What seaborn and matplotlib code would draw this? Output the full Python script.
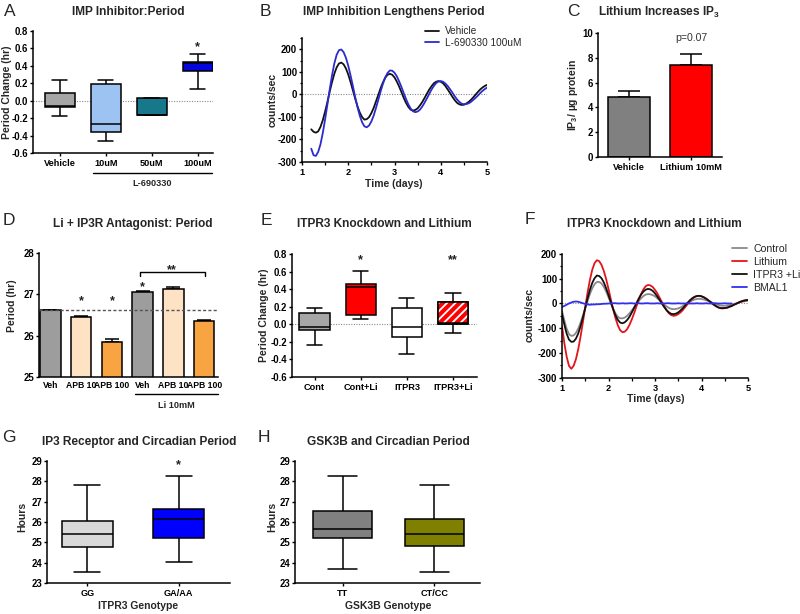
import numpy as np
import pandas as pd
import matplotlib
matplotlib.use('Agg')
import matplotlib.pyplot as plt
import matplotlib.transforms as mtransforms
from matplotlib.lines import Line2D
from matplotlib.patches import PathPatch
from matplotlib.ticker import MultipleLocator, FormatStrFormatter
import seaborn as sns

sns.set_theme(style='ticks')
plt.rcParams['font.family'] = ['Liberation Sans', 'DejaVu Sans']
plt.rcParams['font.weight'] = 'bold'
plt.rcParams['axes.unicode_minus'] = False
plt.rcParams['mathtext.fontset'] = 'custom'
plt.rcParams['mathtext.rm'] = 'Liberation Sans:bold'
plt.rcParams['mathtext.bf'] = 'Liberation Sans:bold'
plt.rcParams['mathtext.it'] = 'Liberation Sans:bold'
plt.rcParams['hatch.linewidth'] = 1.3

# ---------------- data ----------------
# Panel A (box: low, q1, median, q3, high)
a_groups = ['Vehicle', '10uM', '50uM', '100uM']
a_low = [-0.17, -0.46, -0.16, 0.14]
a_q1 = [-0.07, -0.36, -0.16, 0.34]
a_med = [-0.06, -0.27, -0.16, 0.43]
a_q3 = [0.09, 0.19, 0.03, 0.44]
a_high = [0.24, 0.24, 0.03, 0.54]
a_colors = ['#a6a6a6', '#9cc3f2', '#16788a', '#0505dd']

# Panel B (time series)
b_time = np.round(np.arange(1.20, 5.0001, 0.05), 2)
b_vehicle = [-155, -166, -170, -164, -144, -114, -76, -33, 13, 55, 92, 120, 137, 141, 133, 115,
             88, 55, 18, -19, -53, -81, -101, -112, -110, -101, -83, -60, -31, -2, 28, 53, 74, 87, 91, 87,
             75, 57, 35, 10, -16, -38, -56, -68, -72, -69, -62, -49, -34, -16, 3, 21, 36, 49, 56, 59,
             56, 49, 37, 22, 6, -10, -25, -37, -44, -47, -46, -41, -34, -25, -14, -2, 10, 21, 30, 37,
             42]
b_drug = [-241, -270, -273, -255, -221, -171, -110, -44, 23, 85, 138, 176, 196, 199, 187, 162,
          127, 84, 37, -12, -57, -95, -124, -142, -146, -138, -120, -94, -60, -24, 13, 47, 75, 95, 106, 105,
          96, 80, 58, 33, 5, -21, -45, -63, -75, -79, -76, -68, -54, -37, -18, 2, 21, 37, 50, 57,
          59, 56, 48, 37, 23, 8, -8, -22, -33, -41, -44, -43, -40, -34, -25, -16, -6, 5, 15, 23,
          30]
b_labels = ['Vehicle', 'L-690330 100uM']
b_colors = ['#111111', '#2b2bd0']

# Panel C (bars)
c_groups = ['Vehicle', 'Lithium 10mM']
c_values = [4.85, 7.40]
c_errors = [0.51, 0.91]
c_colors = ['#808080', '#ff0000']

# Panel D (bars)
d_ids = ['Veh', 'APB 10', 'APB 100', 'Li Veh', 'Li APB 10', 'Li APB 100']
d_ticklabels = ['Veh', 'APB 10', 'APB 100', 'Veh', 'APB 10', 'APB 100']
d_values = [26.62, 26.46, 25.85, 27.05, 27.12, 26.35]
d_errors = [0.0, 0.02, 0.07, 0.03, 0.05, 0.03]
d_colors = ['#9d9d9d', '#fde2c4', '#f9a443', '#9d9d9d', '#fde2c4', '#f9a443']
d_reference = 26.62

# Panel E (box)
e_groups = ['Cont', 'Cont+Li', 'ITPR3', 'ITPR3+Li']
e_low = [-0.24, 0.06, -0.34, -0.10]
e_q1 = [-0.06, 0.11, -0.14, 0.00]
e_med = [-0.03, 0.42, -0.03, 0.01]
e_q3 = [0.125, 0.46, 0.18, 0.25]
e_high = [0.18, 0.61, 0.30, 0.36]
e_colors = ['#a6a6a6', '#ff0000', '#ffffff', '#ff0000']

# Panel F (time series)
f_time = np.round(np.arange(1.00, 5.0001, 0.05), 2)
f_control = [-30, -68, -102, -124, -131, -129, -119, -101, -77, -49, -19, 11, 38, 61, 78, 87, 87, 81, 67, 48,
             25, 2, -21, -40, -54, -60, -60, -57, -50, -40, -28, -16, -2, 10, 21, 30, 36, 38, 37, 34,
             29, 21, 13, 4, -5, -12, -18, -22, -23, -22, -20, -16, -10, -4, 2, 7, 12, 16, 18, 19,
             18, 16, 13, 10, 6, 2, -2, -5, -8, -9, -9, -8, -7, -5, -2, 1, 4, 6, 8, 10,
             11]
f_lithium = [-91, -160, -215, -252, -264, -252, -225, -184, -133, -75, -14, 44, 95, 136, 163, 175, 171, 156, 131, 98,
             59, 17, -23, -59, -88, -108, -116, -114, -104, -87, -65, -40, -12, 14, 38, 57, 70, 75, 73, 67,
             55, 41, 23, 5, -12, -28, -40, -47, -50, -48, -43, -36, -26, -14, -3, 9, 18, 26, 30, 31,
             29, 25, 20, 13, 5, -3, -10, -15, -19, -20, -19, -17, -14, -10, -5, -1, 4, 8, 11, 13,
             14]
f_itpr3_li = [-43, -85, -122, -146, -155, -154, -142, -121, -91, -56, -18, 20, 55, 83, 102, 113, 111, 102, 85, 61,
              34, 5, -23, -48, -66, -77, -80, -76, -67, -54, -37, -18, 1, 20, 36, 48, 56, 59, 57, 51,
              41, 28, 14, -1, -15, -27, -36, -42, -43, -41, -36, -28, -19, -8, 3, 13, 21, 27, 30, 31,
              29, 25, 19, 12, 5, -3, -9, -15, -18, -19, -18, -17, -13, -10, -5, -1, 4, 8, 11, 13,
              14]
f_bmal1_time = np.round(np.arange(1.00, 4.6501, 0.05), 2)
f_bmal1 = [-14, -10, -5, 0, 4, 7, 8, 7, 4, 1, -2, -4, -5, -4, -4, -3, -3, -2, -1, -1,
           0, 0, 1, 1, 0, 0, 1, 0, 0, 1, 1, 0, 0, 1, 0, 0, 1, 1, 0, 0,
           0, 1, 0, 0, 0, 1, 1, 0, 0, 0, 1, 0, 0, 0, 1, 0, 0, 0, 1, 0,
           0, 0, 1, 0, 0, 0, 1, 0, 0, 0, 1, 0, 0, 0]
f_labels = ['Control', 'Lithium', 'ITPR3 +Li', 'BMAL1']
f_colors = ['#8a8a8a', '#e3141c', '#111111', '#3030f0']

# Panel G (box)
g_groups = ['GG', 'GA/AA']
g_low = [23.52, 24.05]
g_q1 = [24.79, 25.20]
g_med = [25.40, 26.16]
g_q3 = [26.07, 26.62]
g_high = [27.80, 28.27]
g_colors = ['#d9d9d9', '#0000ff']

# Panel H (box)
h_groups = ['TT', 'CT/CC']
h_low = [23.68, 23.52]
h_q1 = [25.23, 24.84]
h_med = [25.66, 25.40]
h_q3 = [26.56, 26.14]
h_high = [28.26, 27.80]
h_colors = ['#808080', '#808000']

# ---------------- helpers ----------------
W, H = 800, 614
fig = plt.figure(figsize=(W / 100, H / 100), dpi=100)
fig.patch.set_facecolor('white')


def add_ax(x0, y0, x1, y1):
    return fig.add_axes([x0 / W, 1 - y1 / H, (x1 - x0) / W, (y1 - y0) / H])


def ftext(x, y, s, **kw):
    kw.setdefault('ha', 'center')
    kw.setdefault('va', 'center')
    return fig.text(x / W, 1 - y / H, s, **kw)


def fline(x0, x1, y):
    fig.add_artist(Line2D([x0 / W, x1 / W], [1 - y / H, 1 - y / H], color='black',
                          lw=1.0, transform=fig.transFigure))


def style(ax):
    sns.despine(ax=ax)
    for s in ('left', 'bottom'):
        ax.spines[s].set_linewidth(1.1)
        ax.spines[s].set_color('black')
    ax.tick_params(axis='both', which='major', length=2.5, width=1.0,
                   color='black', labelcolor='black')
    ax.tick_params(axis='y', pad=1, labelsize=6.9)
    ax.tick_params(axis='x', pad=2, labelsize=6.6)
    ax.tick_params(which='minor', length=1.8, width=0.9, color='black')
    ax.set_xlabel('')
    ax.set_ylabel('')


def star(ax, x, y, s='*', size=9):
    tr = mtransforms.offset_copy(ax.transData, fig=fig, y=-7, units='dots')
    ax.text(x, y, s, transform=tr, ha='center', va='baseline', fontsize=size,
            fontweight='bold', clip_on=False, color='#222222')


def box_panel(ax, groups, low, q1, med, q3, high, colors, width):
    rows = []
    for g, *vals in zip(groups, low, q1, med, q3, high):
        for v in vals:
            rows.append((g, v))
    df = pd.DataFrame(rows, columns=['group', 'value'])
    sns.boxplot(data=df, x='group', y='value', hue='group', order=groups, hue_order=groups,
                palette=dict(zip(groups, colors)), saturation=1, whis=(0, 100), width=width,
                linecolor='black', linewidth=1.1, showfliers=False, legend=False, ax=ax)


def bar_panel(ax, groups, values, colors, width):
    df = pd.DataFrame({'group': groups, 'value': values})
    sns.barplot(data=df, x='group', y='value', hue='group', order=groups, hue_order=groups,
                palette=dict(zip(groups, colors)), saturation=1, width=width, errorbar=None,
                edgecolor='black', linewidth=1.1, legend=False, ax=ax)


TITLE = 8.6
LABEL = 7.5

# ---------------- Panel A ----------------
axA = add_ax(33, 31, 213, 153)
axA.axhline(0, color='#8c8c8c', lw=0.8, ls=(0, (1, 1.3)), zorder=0.5)
box_panel(axA, a_groups, a_low, a_q1, a_med, a_q3, a_high, a_colors, 0.65)
axA.set_ylim(-0.6, 0.8)
axA.set_yticks(np.arange(-0.6, 0.81, 0.2))
axA.yaxis.set_major_formatter(FormatStrFormatter('%.1f'))
axA.set_xlim(-0.58, 3.33)
style(axA)
star(axA, 3, 0.66)
fline(93, 212, 173)
ftext(152, 184, 'L-690330', fontsize=6.6)
ftext(10, 12, 'A', fontsize=12.5, fontweight='normal')
ftext(128, 12, 'IMP Inhibitor:Period', fontsize=TITLE)
ftext(7, 92, 'Period Change (hr)', fontsize=LABEL, rotation=90)

# ---------------- Panel B ----------------
axB = add_ax(302, 38, 487, 162)
axB.axhline(0, color='#8c8c8c', lw=0.8, ls=(0, (1, 1.3)), zorder=0.5)
sns.lineplot(x=b_time, y=b_vehicle, color=b_colors[0], lw=1.3, ax=axB)
sns.lineplot(x=b_time, y=b_drug, color=b_colors[1], lw=1.3, ax=axB)
axB.set_xlim(1, 5)
axB.set_ylim(-300, 250)
axB.set_yticks(np.arange(-300, 201, 100))
axB.yaxis.set_minor_locator(MultipleLocator(50))
axB.set_xticks([1, 2, 3, 4, 5])
axB.xaxis.set_minor_locator(MultipleLocator(0.5))
style(axB)
axB.legend(handles=[Line2D([], [], color=c, lw=1.3) for c in b_colors], labels=b_labels,
           loc='upper left', bbox_to_anchor=(425 / W, 1 - 26 / H), bbox_transform=fig.transFigure,
           frameon=False, prop={'size': 7.2, 'weight': 'normal'}, handlelength=1.4,
           handletextpad=0.6, labelspacing=0.15, borderpad=0, borderaxespad=0)
ftext(265, 12, 'B', fontsize=12.5, fontweight='normal')
ftext(394, 12, 'IMP Inhibition Lengthens Period', fontsize=TITLE)
ftext(273, 100, 'counts/sec', fontsize=LABEL, rotation=90)
ftext(394, 184, 'Time (days)', fontsize=LABEL)

# ---------------- Panel C ----------------
axC = add_ax(598, 33, 722, 157)
bar_panel(axC, c_groups, c_values, c_colors, 0.67)
axC.errorbar(x=np.arange(len(c_values)), y=c_values, yerr=[np.zeros(len(c_values)), c_errors],
             fmt='none', ecolor='black', elinewidth=1.1, capsize=8, capthick=1.1, zorder=0.8)
axC.set_xlim(-0.5, 1.5)
axC.set_ylim(0, 10)
axC.set_yticks(np.arange(0, 11, 2))
style(axC)
axC.text(1, 9.57, 'p=0.07', ha='center', va='center', fontsize=7.6, fontweight='normal', color='#333333')
ftext(573, 12, 'C', fontsize=12.5, fontweight='normal')
ftext(659, 12, r'Lithium Increases IP$_{3}$', fontsize=TITLE)
ftext(573, 95, r'IP$_{3}$/ µg protein', fontsize=LABEL, rotation=90)

# ---------------- Panel D ----------------
axD = add_ax(39, 253, 218, 377)
bar_panel(axD, d_ids, d_values, d_colors, 0.67)
axD.errorbar(x=np.arange(len(d_values)), y=d_values, yerr=[np.zeros(len(d_values)), d_errors],
             fmt='none', ecolor='black', elinewidth=1.1, capsize=5, capthick=1.1, zorder=0.8)
axD.axhline(d_reference, color='#555555', lw=1.0, ls=(0, (2.2, 1.6)), zorder=3)
axD.set_ylim(25, 28)
axD.set_yticks([25, 26, 27, 28])
axD.set_xlim(-0.37, 5.45)
axD.set_xticks(range(len(d_ids)))
axD.set_xticklabels(d_ticklabels)
style(axD)
axD.tick_params(axis='x', length=0, labelsize=6.2, pad=3)
star(axD, 1, 26.93)
star(axD, 2, 26.93)
star(axD, 3, 27.27)
axD.plot([2.9, 2.9, 5.02, 5.02], [27.45, 27.53, 27.53, 27.45], color='black', lw=1.0, clip_on=False)
star(axD, 3.95, 27.69, '**')
fline(135, 218, 394)
ftext(176, 406, 'Li 10mM', fontsize=6.6)
ftext(9, 221, 'D', fontsize=12.5, fontweight='normal')
ftext(133, 224, 'Li + IP3R Antagonist: Period', fontsize=TITLE)
ftext(12, 306, 'Period (hr)', fontsize=LABEL, rotation=90)

# ---------------- Panel E ----------------
axE = add_ax(292, 254, 477, 377)
axE.axhline(0, color='#8c8c8c', lw=0.8, ls=(0, (1, 1.3)), zorder=0.5)
box_panel(axE, e_groups, e_low, e_q1, e_med, e_q3, e_high, e_colors, 0.66)
for p in list(axE.patches):
    ext = p.get_path().get_extents()
    if abs((ext.x0 + ext.x1) / 2 - 3) < 0.2:
        hp = PathPatch(p.get_path(), transform=p.get_transform(), facecolor='none',
                       edgecolor='white', hatch='////', lw=0, zorder=p.get_zorder() + 0.01)
        axE.add_patch(hp)
        op = PathPatch(p.get_path(), transform=p.get_transform(), facecolor='none',
                       edgecolor='black', lw=1.1, zorder=p.get_zorder() + 0.02)
        axE.add_patch(op)
axE.set_ylim(-0.6, 0.8)
axE.set_yticks(np.arange(-0.6, 0.81, 0.2))
axE.yaxis.set_major_formatter(FormatStrFormatter('%.1f'))
axE.set_xlim(-0.49, 3.52)
style(axE)
star(axE, 1, 0.78)
star(axE, 3, 0.78, '**')
ftext(266, 221, 'E', fontsize=12.5, fontweight='normal')
ftext(384, 224, 'ITPR3 Knockdown and Lithium', fontsize=TITLE)
ftext(264, 315, 'Period Change (hr)', fontsize=LABEL, rotation=90)

# ---------------- Panel F ----------------
axF = add_ax(562, 254, 748, 377.7)
axF.axhline(0, color='#8c8c8c', lw=0.8, ls=(0, (1, 1.3)), zorder=0.5)
sns.lineplot(x=f_time, y=f_control, color=f_colors[0], lw=1.3, ax=axF)
sns.lineplot(x=f_time, y=f_lithium, color=f_colors[1], lw=1.3, ax=axF)
sns.lineplot(x=f_time, y=f_itpr3_li, color=f_colors[2], lw=1.3, ax=axF)
sns.lineplot(x=f_bmal1_time, y=f_bmal1, color=f_colors[3], lw=1.3, ax=axF)
axF.set_xlim(1, 5)
axF.set_ylim(-300, 200)
axF.set_yticks(np.arange(-300, 201, 100))
axF.yaxis.set_minor_locator(MultipleLocator(50))
axF.set_xticks([1, 2, 3, 4, 5])
axF.xaxis.set_minor_locator(MultipleLocator(0.5))
style(axF)
axF.legend(handles=[Line2D([], [], color=c, lw=1.3) for c in f_colors], labels=f_labels,
           loc='upper left', bbox_to_anchor=(732 / W, 1 - 244 / H), bbox_transform=fig.transFigure,
           frameon=False, prop={'size': 7.6, 'weight': 'normal'}, handlelength=1.4,
           handletextpad=0.6, labelspacing=0.28, borderpad=0, borderaxespad=0)
ftext(530, 220, 'F', fontsize=12.5, fontweight='normal')
ftext(654, 224, 'ITPR3 Knockdown and Lithium', fontsize=TITLE)
ftext(530, 315, 'counts/sec', fontsize=LABEL, rotation=90)
ftext(656, 399, 'Time (days)', fontsize=LABEL)

# ---------------- Panel G ----------------
axG = add_ax(47, 461, 230, 583)
box_panel(axG, g_groups, g_low, g_q1, g_med, g_q3, g_high, g_colors, 0.56)
axG.set_ylim(23, 29)
axG.set_yticks(range(23, 30))
axG.set_xlim(-0.44, 1.56)
style(axG)
star(axG, 1, 29.0)
ftext(9, 438, 'G', fontsize=12.5, fontweight='normal')
ftext(139, 442, 'IP3 Receptor and Circadian Period', fontsize=TITLE)
ftext(22, 517, 'Hours', fontsize=LABEL, rotation=90)
ftext(138, 606, 'ITPR3 Genotype', fontsize=LABEL)

# ---------------- Panel H ----------------
axH = add_ax(295, 461, 480, 583)
box_panel(axH, h_groups, h_low, h_q1, h_med, h_q3, h_high, h_colors, 0.64)
axH.set_ylim(23, 29)
axH.set_yticks(range(23, 30))
axH.set_xlim(-0.52, 1.50)
style(axH)
ftext(264, 438, 'H', fontsize=12.5, fontweight='normal')
ftext(388, 442, 'GSK3B and Circadian Period', fontsize=TITLE)
ftext(272, 517, 'Hours', fontsize=LABEL, rotation=90)
ftext(388, 606, 'GSK3B Genotype', fontsize=LABEL)

fig.savefig('out.png', dpi=100)
